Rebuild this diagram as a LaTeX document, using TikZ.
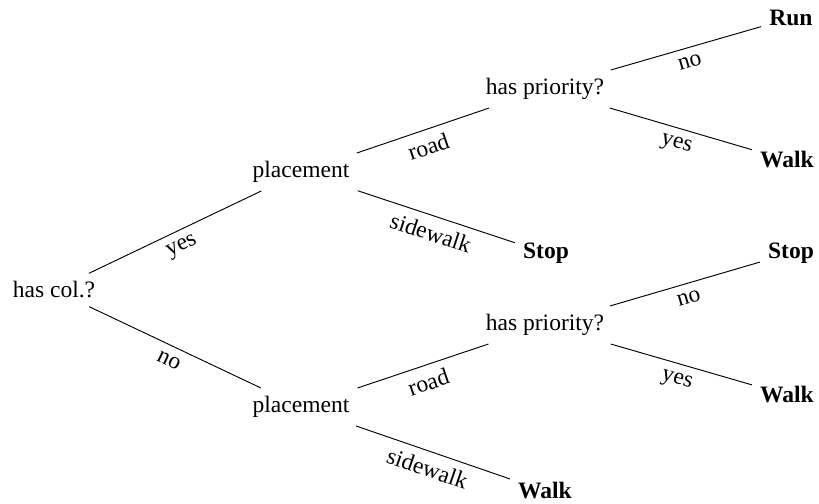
\documentclass[tikz,border=0pt]{standalone}
\usepackage{fontspec}
\setmainfont{Liberation Serif}
\begin{document}
\begin{tikzpicture}[x=0.425pt,y=-0.425pt,
  every node/.style={font=\fontsize{10}{12}\selectfont},
  dec/.style={},
  leaf/.style={font=\fontsize{10}{12}\selectfont\bfseries},
  lab/.style={sloped,below,midway,inner sep=3.5pt},
  edge/.style={draw,line width=0.4pt}]
\useasboundingbox (0,0) rectangle (819,504);
\node[dec] (c) at (54,290) {has col.?};
\node[dec] (p1) at (301,172) {placement};
\node[dec] (p2) at (301,407) {placement};
\node[dec] (h1) at (545,89) {has priority?};
\node[dec] (h2) at (545,325) {has priority?};
\node[leaf] (run) at (791,18) {Run};
\node[leaf] (w1) at (787,160) {Walk};
\node[leaf] (s1) at (546,253) {Stop};
\node[leaf] (s2) at (791,253) {Stop};
\node[leaf] (w2) at (787,395) {Walk};
\node[leaf] (w3) at (545,491) {Walk};
\path[edge] (c) -- node[lab]{yes} (p1);
\path[edge] (c) -- node[lab]{no} (p2);
\path[edge] (p1) -- node[lab]{road} (h1);
\path[edge] (p1) -- node[lab]{sidewalk} (s1);
\path[edge] (h1) -- node[lab]{no} (run);
\path[edge] (h1) -- node[lab]{yes} (w1);
\path[edge] (p2) -- node[lab]{road} (h2);
\path[edge] (p2) -- node[lab]{sidewalk} (w3);
\path[edge] (h2) -- node[lab]{no} (s2);
\path[edge] (h2) -- node[lab]{yes} (w2);
\end{tikzpicture}
\end{document}
